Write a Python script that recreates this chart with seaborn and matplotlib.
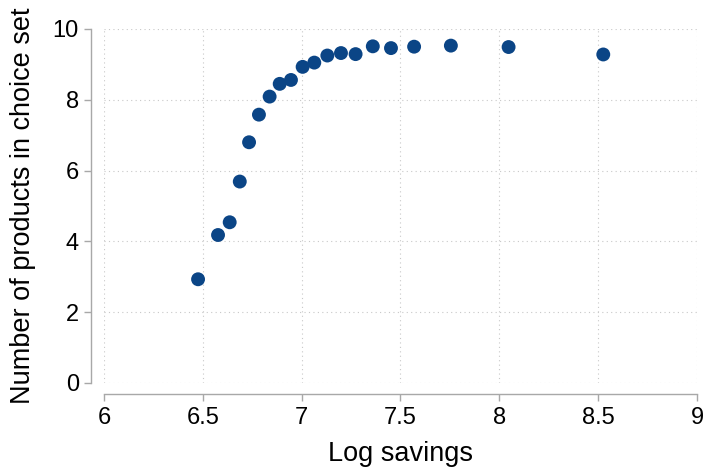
import pandas as pd
import matplotlib
matplotlib.use("Agg")
import matplotlib.pyplot as plt
import seaborn as sns

# binned means
log_savings = [6.476, 6.577, 6.636, 6.687, 6.734, 6.784, 6.838, 6.889, 6.946, 7.005,
               7.064, 7.130, 7.199, 7.273, 7.360, 7.452, 7.569, 7.755, 8.047, 8.526]
n_products = [2.93, 4.18, 4.54, 5.69, 6.80, 7.58, 8.09, 8.45, 8.56, 8.93,
              9.05, 9.25, 9.32, 9.29, 9.51, 9.46, 9.50, 9.53, 9.49, 9.28]
x_ticks = [6, 6.5, 7, 7.5, 8, 8.5, 9]
x_tick_labels = ["6", "6.5", "7", "7.5", "8", "8.5", "9"]
y_ticks = [0, 2, 4, 6, 8, 10]

df = pd.DataFrame({"Log savings": log_savings, "n": n_products})

sns.set_style("white")
plt.rcParams["font.family"] = ["Liberation Sans", "DejaVu Sans"]

fig = plt.figure(figsize=(7.04, 4.72), dpi=100)
ax = fig.add_axes([0.1477, 0.1886, 0.8423, 0.75])

sns.scatterplot(data=df, x="Log savings", y="n", ax=ax, color="#0b4586",
                s=100, edgecolor="none", zorder=3)

ax.set_xlim(6, 9)
ax.set_ylim(0, 10)
ax.set_xticks(x_ticks)
ax.set_xticklabels(x_tick_labels)
ax.set_yticks(y_ticks)
ax.grid(True, linestyle=(0, (1, 3)), color="#c8c8c8", linewidth=0.8)

for side in ["top", "right"]:
    ax.spines[side].set_visible(False)
ax.spines["left"].set_position(("outward", 9))
ax.spines["bottom"].set_position(("outward", 8))
for side in ["left", "bottom"]:
    ax.spines[side].set_color("#a8a8a8")
    ax.spines[side].set_linewidth(1.0)
ax.spines["left"].set_bounds(0, 10)
ax.spines["bottom"].set_bounds(6, 9)

ax.tick_params(axis="both", which="major", length=5, width=1.0, color="#a8a8a8",
               labelsize=17, labelcolor="black", direction="out", pad=4,
               left=True, bottom=True)

ax.set_xlabel("Log savings", fontsize=19.5, labelpad=9, color="black")
ax.set_ylabel("Number of products in choice set", fontsize=19.5, labelpad=12, color="black")

fig.savefig("out.png", dpi=100)
